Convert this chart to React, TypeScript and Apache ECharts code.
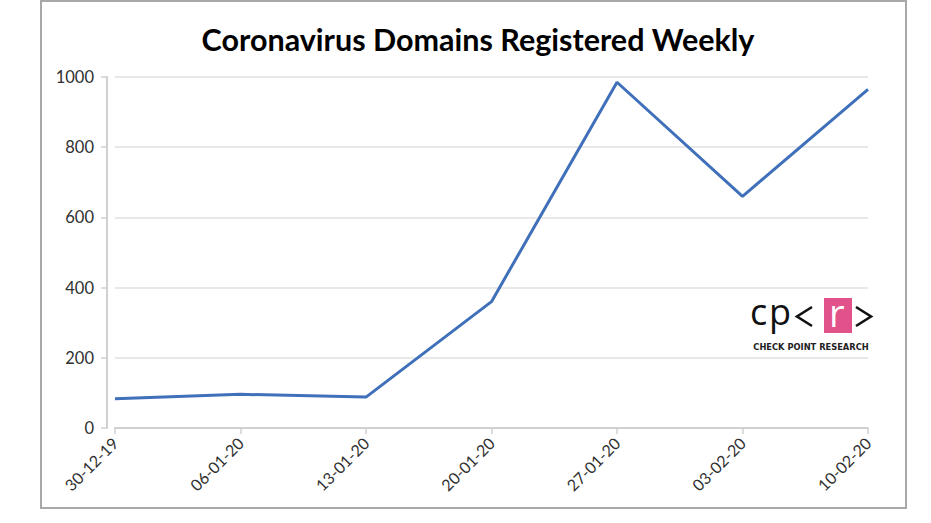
import React, { useEffect, useRef } from "react";
import * as echarts from "echarts";

const weeks = ["30-12-19", "06-01-20", "13-01-20", "20-01-20", "27-01-20", "03-02-20", "10-02-20"];
const domains = [83, 96, 88, 360, 985, 660, 965];
const yTicks = [0, 200, 400, 600, 800, 1000];

const FONT = "Lato, 'Open Sans', sans-serif";
const LOGO_FONT = "'Open Sans', sans-serif";

export default function App() {
  const ref = useRef<HTMLDivElement>(null);
  useEffect(() => {
    document.body.style.margin = "0";
    const chart = echarts.init(ref.current!, null, { renderer: "svg" });
    const logoText = (t: string, x: number, fill: string, size = 36) => ({
      type: "text",
      x,
      y: 293,
      style: { text: t, fontFamily: LOGO_FONT, fontWeight: "normal", fontSize: size, fill },
    });
    chart.setOption({
      animation: false,
      backgroundColor: "#ffffff",
      title: {
        text: "Coronavirus Domains Registered Weekly",
        left: 473,
        textAlign: "center",
        top: 18,
        textStyle: { fontFamily: FONT, fontWeight: "bold", fontSize: 30.5, color: "#000000" },
      },
      grid: { left: 115, top: 77, width: 753, height: 351, containLabel: false },
      xAxis: {
        type: "category",
        data: weeks,
        boundaryGap: false,
        axisLine: { lineStyle: { color: "#d0d0d0", width: 2 } },
        axisTick: { show: true, alignWithLabel: true, length: 6, lineStyle: { color: "#d0d0d0", width: 1.5 } },
        axisLabel: { rotate: 45, fontFamily: FONT, fontSize: 16, color: "#303030", margin: 12 },
        splitLine: { show: false },
      },
      yAxis: {
        type: "value",
        min: yTicks[0],
        max: yTicks[yTicks.length - 1],
        interval: 200,
        offset: 8,
        axisLine: { show: true, lineStyle: { color: "#d0d0d0", width: 2 } },
        axisTick: { show: true, length: 6, lineStyle: { color: "#d0d0d0", width: 1.5 } },
        axisLabel: {
          fontFamily: FONT,
          fontSize: 16.5,
          color: "#303030",
          margin: 13,
          formatter: (v: number) => String(v),
        },
        splitLine: { lineStyle: { color: "#e0e0e0", width: 1.5 } },
      },
      series: [
        {
          type: "line",
          data: domains,
          symbol: "none",
          lineStyle: { color: "#3f70b9", width: 3 },
        },
      ],
      graphic: [
        {
          type: "rect",
          shape: { x: 41, y: 1, width: 865, height: 507 },
          style: { fill: "none", stroke: "#a8a8a8", lineWidth: 2 },
          silent: true,
        },
        logoText("c", 750, "#111111"),
        logoText("p", 769, "#111111"),
        {
          type: "polyline",
          shape: { points: [[812, 307], [797, 316.5], [812, 326]] },
          style: { stroke: "#111111", lineWidth: 2.6, fill: "none" },
        },
        {
          type: "rect",
          shape: { x: 824, y: 298, width: 28, height: 35 },
          style: { fill: "#e2528a" },
        },
        logoText("r", 829, "#ffffff", 38),
        {
          type: "polyline",
          shape: { points: [[856, 307], [871, 316.5], [856, 326]] },
          style: { stroke: "#111111", lineWidth: 2.6, fill: "none" },
        },
        {
          type: "text",
          x: 811,
          y: 343,
          style: {
            text: "CHECK POINT RESEARCH",
            align: "center",
            fontFamily: "'DejaVu Sans', sans-serif",
            fontWeight: "bold",
            fontSize: 8.3,
            fill: "#222222",
          },
        },
      ],
    });
    return () => chart.dispose();
  }, []);
  return <div ref={ref} style={{ width: 931, height: 523 }} />;
}
